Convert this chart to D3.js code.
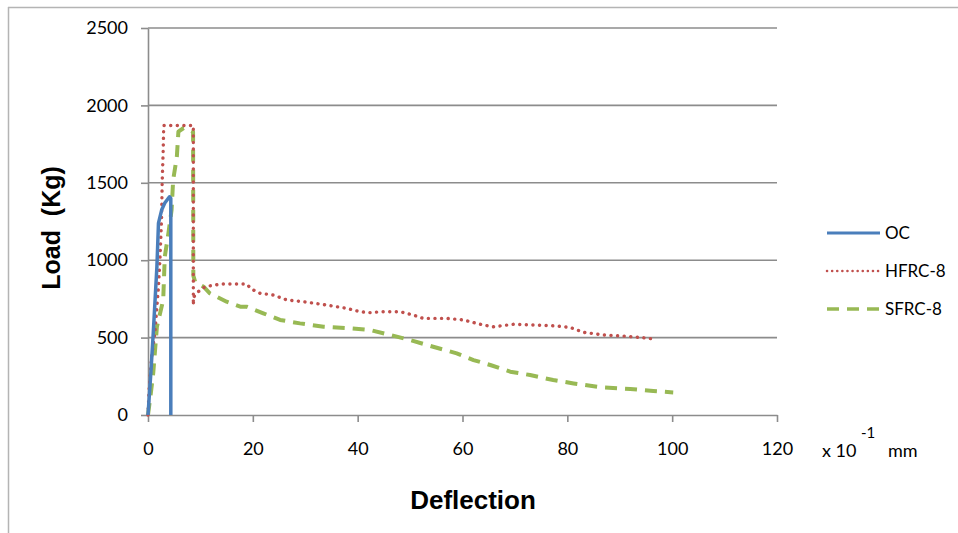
<!DOCTYPE html>
<html>
<head>
<meta charset="utf-8">
<script src="https://cdn.jsdelivr.net/npm/d3@7"></script>
<style>
  html, body { margin: 0; padding: 0; background: #fff; }
  svg { display: block; }
  .tick text { font-family: Lato, "Open Sans", sans-serif; font-size: 18px; fill: #000; }
</style>
</head>
<body>
<svg id="chart" width="958" height="533"></svg>
<script>
// ---- data ----
const xTicks = [0, 20, 40, 60, 80, 100, 120];
const yTicks = [0, 500, 1000, 1500, 2000, 2500];

const seriesNames = ["OC", "HFRC-8", "SFRC-8"];

const ocX = [0, 0.5, 1.0, 1.7, 2.0, 2.6, 3.2, 4.1, 4.35, 4.35];
const ocY = [0, 250, 528, 958, 1240, 1324, 1369, 1410, 1400, 0];

const hfrcX = [0, 0.2, 0.7, 1.3, 2.0, 2.3, 2.6, 2.7, 2.9, 3.0, 5.0, 8.65, 8.65, 8.7, 9.0, 9.6, 10.9, 14.0, 18.8, 19.8, 21.4, 23.9, 26.5, 29.6, 34.1, 37.9, 40.5, 42.4, 44.3, 48.1, 50.6, 52.5, 57.0, 60.2, 62.7, 64.0, 65.9, 69.7, 74.2, 78.0, 80.5, 83.1, 86.9, 90.7, 94.5, 96.4];
const hfrcY = [0, 161, 377, 528, 829, 1022, 1281, 1497, 1712, 1870, 1870, 1870, 710, 760, 775, 797, 829, 846, 846, 812, 786, 775, 743, 732, 710, 689, 667, 661, 667, 667, 646, 624, 624, 614, 592, 581, 570, 586, 581, 575, 566, 534, 517, 510, 499, 491];

const sfrcX = [0, 0.5, 1.0, 1.7, 2.9, 3.2, 3.9, 4.5, 4.8, 5.5, 5.8, 6.8, 8.6, 8.65, 9.0, 10.6, 11.8, 15.0, 17.6, 18.8, 22.0, 25.2, 29.0, 33.5, 38.5, 42.4, 46.2, 50.0, 54.4, 58.9, 62.1, 65.3, 69.1, 72.9, 77.3, 81.2, 86.3, 92.0, 96.4, 100.2];
const sfrcY = [0, 130, 271, 570, 743, 1022, 1175, 1324, 1518, 1668, 1830, 1854, 1830, 900, 860, 829, 786, 732, 700, 700, 657, 614, 592, 570, 560, 549, 517, 484, 441, 398, 355, 323, 280, 258, 226, 204, 179, 168, 155, 146];

// ---- layout ----
const svg = d3.select("#chart");
const W = 958, H = 533;
const x = d3.scaleLinear().domain([0, 120]).range([148, 777]);
const y = d3.scaleLinear().domain([0, 2500]).range([415, 28]);
const gridColor = "#8c8c8c";

// outer frame (top and left only visible)
svg.append("line").attr("x1", 8).attr("x2", W).attr("y1", 7.5).attr("y2", 7.5)
  .attr("stroke", "#b4b4b4").attr("stroke-width", 1.5);
svg.append("line").attr("x1", 8.5).attr("x2", 8.5).attr("y1", 7).attr("y2", H)
  .attr("stroke", "#b4b4b4").attr("stroke-width", 1.5);

// gridlines
svg.append("g").selectAll("line").data(yTicks.filter(d => d > 0)).join("line")
  .attr("x1", x(0)).attr("x2", x(120))
  .attr("y1", d => y(d)).attr("y2", d => y(d))
  .attr("stroke", gridColor).attr("stroke-width", 1.6);

// y axis
const yAxis = svg.append("g").attr("transform", `translate(${x(0)},0)`)
  .call(d3.axisLeft(y).tickValues(yTicks).tickFormat(d3.format("d"))
    .tickSize(7).tickPadding(13).tickSizeOuter(0));
yAxis.select(".domain").attr("stroke", gridColor).attr("stroke-width", 1.6);
yAxis.selectAll(".tick line").attr("stroke", gridColor).attr("stroke-width", 1.6);

// x axis
const xAxis = svg.append("g").attr("transform", `translate(0,${y(0)})`)
  .call(d3.axisBottom(x).tickValues(xTicks).tickFormat(d3.format("d"))
    .tickSize(7).tickPadding(20).tickSizeOuter(0));
xAxis.select(".domain").attr("stroke", gridColor).attr("stroke-width", 1.6);
xAxis.selectAll(".tick line").attr("stroke", gridColor).attr("stroke-width", 1.6);

// series
const line = d3.line().x(d => x(d[0])).y(d => y(d[1]));
const zip = (a, b) => a.map((v, i) => [v, b[i]]);

const styles = {
  "OC": { color: "#4a7ebb", width: 3.5, dash: null, cap: "butt" },
  "HFRC-8": { color: "#c0504d", width: 3.4, dash: "0.1,6.5", cap: "round" },
  "SFRC-8": { color: "#98b954", width: 4, dash: "12,8", cap: "butt" }
};
const seriesData = {
  "OC": zip(ocX, ocY),
  "HFRC-8": zip(hfrcX, hfrcY),
  "SFRC-8": zip(sfrcX, sfrcY)
};

["SFRC-8", "HFRC-8", "OC"].forEach(name => {
  const s = styles[name];
  svg.append("path").datum(seriesData[name])
    .attr("d", line)
    .attr("fill", "none")
    .attr("stroke", s.color)
    .attr("stroke-width", s.width)
    .attr("stroke-linecap", s.cap)
    .attr("stroke-linejoin", "round")
    .attr("stroke-dasharray", s.dash);
});

// legend
const legend = svg.append("g");
seriesNames.forEach((name, i) => {
  const s = styles[name];
  const ly = 233 + i * 38;
  legend.append("line").attr("x1", 827).attr("x2", 880).attr("y1", ly).attr("y2", ly)
    .attr("stroke", s.color).attr("stroke-width", name === "HFRC-8" ? 2.5 : s.width - 0.5)
    .attr("stroke-linecap", s.cap).attr("stroke-dasharray", name === "HFRC-8" ? "0.1,5" : s.dash);
  legend.append("text").attr("x", 885).attr("y", ly).attr("dy", "0.36em")
    .attr("font-family", "Lato, 'Open Sans', sans-serif").attr("font-size", 17)
    .text(name);
});

// axis titles
svg.append("text").attr("x", 473).attr("y", 509).attr("text-anchor", "middle")
  .attr("font-family", "'Liberation Sans', Arial, sans-serif").attr("font-weight", "bold")
  .attr("font-size", 26).text("Deflection");

svg.append("text").attr("transform", "translate(60,228) rotate(-90)")
  .attr("text-anchor", "middle")
  .attr("font-family", "'Liberation Sans', Arial, sans-serif").attr("font-weight", "bold")
  .attr("font-size", 25).attr("xml:space", "preserve").text("Load  (Kg)");

// unit label
svg.append("text").attr("x", 822).attr("y", 457)
  .attr("font-family", "Lato, 'Open Sans', sans-serif").attr("font-size", 18).text("x 10");
svg.append("text").attr("x", 861).attr("y", 438)
  .attr("font-family", "Lato, 'Open Sans', sans-serif").attr("font-size", 15).text("-1");
svg.append("text").attr("x", 888).attr("y", 457)
  .attr("font-family", "Lato, 'Open Sans', sans-serif").attr("font-size", 18).text("mm");
</script>
</body>
</html>
